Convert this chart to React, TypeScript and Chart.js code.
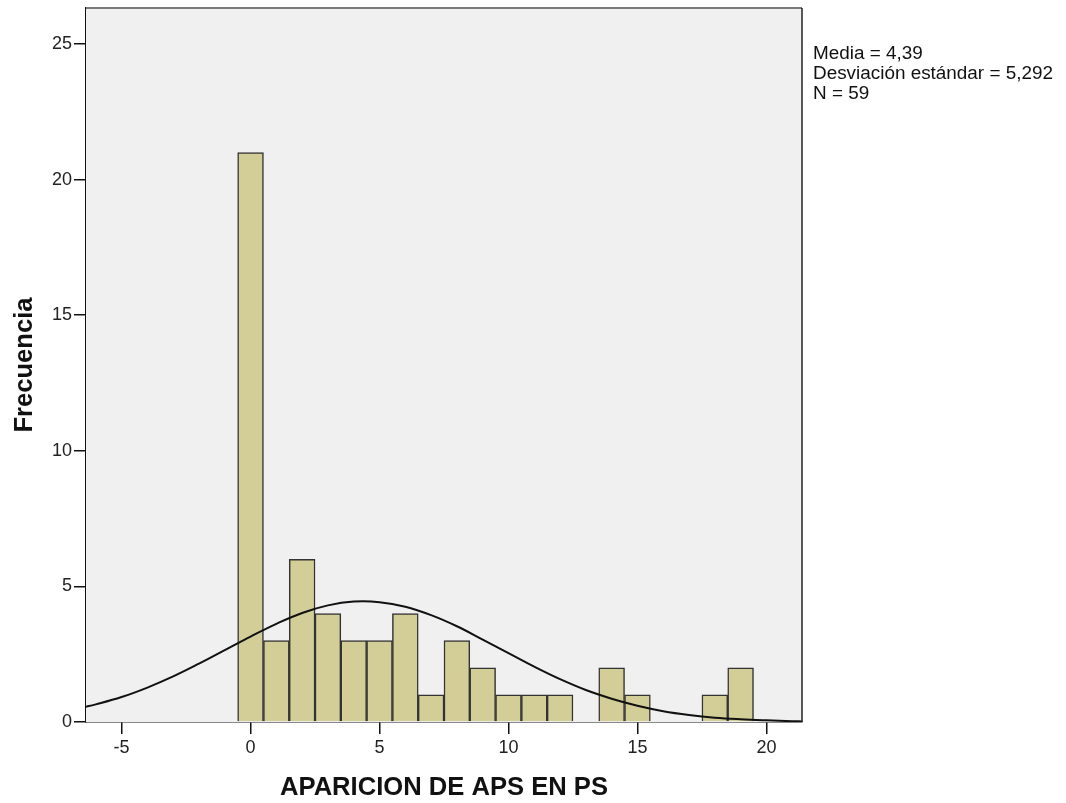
import React, { useEffect, useRef } from "react";
import { Chart, registerables } from "chart.js";

Chart.register(...registerables);

const binCenters = [0, 1, 2, 3, 4, 5, 6, 7, 8, 9, 10, 11, 12, 13, 14, 15, 16, 17, 18, 19];
const frequencies = [21, 3, 6, 4, 3, 3, 4, 1, 3, 2, 1, 1, 1, 0, 2, 1, 0, 0, 1, 2];

const curveX = [-6.5, -6, -5, -4, -3, -2, -1, 0, 1, 2, 3, 4, 5, 6, 7, 8, 9, 10, 11, 12, 13, 14, 15, 16, 17, 18, 19, 20, 21, 21.5];
const curveY = [0.54, 0.65, 0.92, 1.27, 1.68, 2.15, 2.65, 3.15, 3.62, 4.02, 4.3, 4.44, 4.42, 4.25, 3.94, 3.53, 3.04, 2.54, 2.04, 1.58, 1.18, 0.86, 0.6, 0.4, 0.26, 0.16, 0.1, 0.06, 0.03, 0.02];

const xTicks = [-5, 0, 5, 10, 15, 20];
const yTicks = [0, 5, 10, 15, 20, 25];

const statsLines = ["Media = 4,39", "Desviación estándar = 5,292", "N = 59"];

const FONT = "'Liberation Sans', Arial, sans-serif";

const plotFrame = {
  id: "plotFrame",
  beforeDatasetsDraw(chart: any) {
    const { ctx, chartArea } = chart;
    ctx.save();
    ctx.fillStyle = "#F0F0F0";
    ctx.fillRect(chartArea.left, chartArea.top, chartArea.right - chartArea.left, chartArea.bottom - chartArea.top);
    ctx.restore();
  },
  afterDraw(chart: any) {
    const { ctx, chartArea } = chart;
    ctx.save();
    ctx.lineWidth = 2;
    ctx.strokeStyle = "#7a7a7a";
    ctx.beginPath();
    ctx.moveTo(chartArea.left, chartArea.top);
    ctx.lineTo(chartArea.right, chartArea.top);
    ctx.stroke();
    ctx.strokeStyle = "#222";
    ctx.lineWidth = 1.5;
    ctx.beginPath();
    ctx.moveTo(chartArea.right, chartArea.top);
    ctx.lineTo(chartArea.right, chartArea.bottom);
    ctx.stroke();
    ctx.restore();
  },
};

export default function App() {
  const ref = useRef<HTMLCanvasElement | null>(null);

  useEffect(() => {
    if (!ref.current) return;
    const chart = new Chart(ref.current, {
      type: "bar",
      data: {
        datasets: [
          {
            type: "line",
            data: curveX.map((x, i) => ({ x, y: curveY[i] })),
            borderColor: "#111",
            borderWidth: 2,
            pointRadius: 0,
            fill: false,
            tension: 0.4,
            order: 0,
          } as any,
          {
            type: "bar",
            data: binCenters.map((x, i) => ({ x, y: frequencies[i] === 0 ? null : frequencies[i] })),
            backgroundColor: "#D3CE98",
            borderColor: "#333333",
            borderWidth: 1.5,
            barPercentage: 1,
            categoryPercentage: 1,
            order: 1,
          } as any,
        ],
      },
      options: {
        responsive: false,
        animation: false,
        layout: { padding: { top: 8, right: 264, left: 0, bottom: 0 } },
        plugins: { legend: { display: false }, tooltip: { enabled: false } },
        scales: {
          x: {
            type: "linear",
            min: -6.38,
            max: 21.38,
            offset: false,
            grid: { display: true, drawOnChartArea: false, drawTicks: true, tickLength: 12, color: "#111", lineWidth: 1.5, offset: false },
            border: { display: true, color: "#111", width: 1.5 },
            ticks: { color: "#222", font: { family: FONT, size: 18 }, padding: 3, maxRotation: 0 },
            afterBuildTicks: (scale: any) => {
              scale.ticks = xTicks.map((v) => ({ value: v }));
            },
            afterFit: (scale: any) => {
              scale.height = 81;
              scale.paddingLeft = 0;
              scale.paddingRight = 0;
            },
            title: {
              display: true,
              text: "APARICION DE APS EN PS",
              color: "#111",
              font: { family: FONT, size: 25.6, weight: "bold" },
              padding: { top: 4, bottom: 0 },
            },
          },
          y: {
            type: "linear",
            min: 0,
            max: 26.33,
            grid: { display: true, drawOnChartArea: false, drawTicks: true, tickLength: 12, color: "#111", lineWidth: 1.5 },
            border: { display: true, color: "#111", width: 1.5 },
            ticks: { color: "#222", font: { family: FONT, size: 18 }, padding: 2 },
            afterBuildTicks: (scale: any) => {
              scale.ticks = yTicks.map((v) => ({ value: v }));
            },
            afterFit: (scale: any) => {
              scale.width = 86;
              scale.paddingTop = 0;
              scale.paddingBottom = 0;
            },
            title: {
              display: true,
              text: "Frecuencia",
              color: "#111",
              font: { family: FONT, size: 25.6, weight: "bold" },
              padding: { top: 10, bottom: 0 },
            },
          },
        },
      } as any,
      plugins: [plotFrame],
    });
    return () => chart.destroy();
  }, []);

  return (
    <div style={{ position: "absolute", left: 0, top: 0, width: 1066, height: 803, background: "#fff" }}>
      <canvas ref={ref} width={1066} height={803} style={{ display: "block" }} />
      <div
        style={{
          position: "absolute",
          left: 813,
          top: 43,
          fontFamily: FONT,
          fontSize: 18.9,
          lineHeight: "20px",
          color: "#111",
          whiteSpace: "nowrap",
        }}
      >
        {statsLines.map((s) => (
          <div key={s}>{s}</div>
        ))}
      </div>
    </div>
  );
}
